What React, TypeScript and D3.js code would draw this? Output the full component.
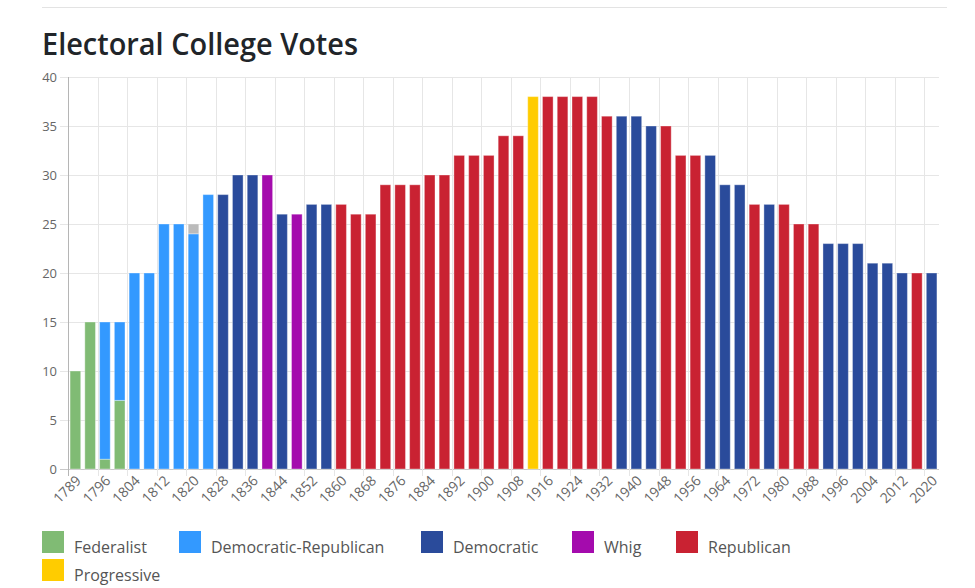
import { useMemo } from 'react';
import * as d3 from 'd3';

const years = [
  1789, 1792, 1796, 1800, 1804, 1808, 1812, 1816, 1820, 1824,
  1828, 1832, 1836, 1840, 1844, 1848, 1852, 1856, 1860, 1864,
  1868, 1872, 1876, 1880, 1884, 1888, 1892, 1896, 1900, 1904,
  1908, 1912, 1916, 1920, 1924, 1928, 1932, 1936, 1940, 1944,
  1948, 1952, 1956, 1960, 1964, 1968, 1972, 1976, 1980, 1984,
  1988, 1992, 1996, 2000, 2004, 2008, 2012, 2016, 2020,
];

// electoral votes per party, one entry per election year
const federalist = [
  10, 15, 1, 7, 0, 0, 0, 0, 0, 0,
  0, 0, 0, 0, 0, 0, 0, 0, 0, 0,
  0, 0, 0, 0, 0, 0, 0, 0, 0, 0,
  0, 0, 0, 0, 0, 0, 0, 0, 0, 0,
  0, 0, 0, 0, 0, 0, 0, 0, 0, 0,
  0, 0, 0, 0, 0, 0, 0, 0, 0,
];
const democraticRepublican = [
  0, 0, 14, 8, 20, 20, 25, 25, 24, 28,
  0, 0, 0, 0, 0, 0, 0, 0, 0, 0,
  0, 0, 0, 0, 0, 0, 0, 0, 0, 0,
  0, 0, 0, 0, 0, 0, 0, 0, 0, 0,
  0, 0, 0, 0, 0, 0, 0, 0, 0, 0,
  0, 0, 0, 0, 0, 0, 0, 0, 0,
];
const democratic = [
  0, 0, 0, 0, 0, 0, 0, 0, 0, 0,
  28, 30, 30, 0, 26, 0, 27, 27, 0, 0,
  0, 0, 0, 0, 0, 0, 0, 0, 0, 0,
  0, 0, 0, 0, 0, 0, 0, 36, 36, 35,
  0, 0, 0, 32, 29, 29, 0, 27, 0, 0,
  0, 23, 23, 23, 21, 21, 20, 0, 20,
];
const whig = [
  0, 0, 0, 0, 0, 0, 0, 0, 0, 0,
  0, 0, 0, 30, 0, 26, 0, 0, 0, 0,
  0, 0, 0, 0, 0, 0, 0, 0, 0, 0,
  0, 0, 0, 0, 0, 0, 0, 0, 0, 0,
  0, 0, 0, 0, 0, 0, 0, 0, 0, 0,
  0, 0, 0, 0, 0, 0, 0, 0, 0,
];
const republican = [
  0, 0, 0, 0, 0, 0, 0, 0, 0, 0,
  0, 0, 0, 0, 0, 0, 0, 0, 27, 26,
  26, 29, 29, 29, 30, 30, 32, 32, 32, 34,
  34, 0, 38, 38, 38, 38, 36, 0, 0, 0,
  35, 32, 32, 0, 0, 0, 27, 0, 27, 25,
  25, 0, 0, 0, 0, 0, 0, 20, 0,
];
const progressive = [
  0, 0, 0, 0, 0, 0, 0, 0, 0, 0,
  0, 0, 0, 0, 0, 0, 0, 0, 0, 0,
  0, 0, 0, 0, 0, 0, 0, 0, 0, 0,
  0, 38, 0, 0, 0, 0, 0, 0, 0, 0,
  0, 0, 0, 0, 0, 0, 0, 0, 0, 0,
  0, 0, 0, 0, 0, 0, 0, 0, 0,
];
const other = [
  0, 0, 0, 0, 0, 0, 0, 0, 1, 0,
  0, 0, 0, 0, 0, 0, 0, 0, 0, 0,
  0, 0, 0, 0, 0, 0, 0, 0, 0, 0,
  0, 0, 0, 0, 0, 0, 0, 0, 0, 0,
  0, 0, 0, 0, 0, 0, 0, 0, 0, 0,
  0, 0, 0, 0, 0, 0, 0, 0, 0,
];

const series = [
  { key: 'Federalist', values: federalist, color: '#80bb74', legend: true },
  { key: 'Democratic-Republican', values: democraticRepublican, color: '#3399ff', legend: true },
  { key: 'Democratic', values: democratic, color: '#2a4b9b', legend: true },
  { key: 'Whig', values: whig, color: '#a40bad', legend: true },
  { key: 'Republican', values: republican, color: '#c92232', legend: true },
  { key: 'Progressive', values: progressive, color: '#ffcc00', legend: true },
  { key: 'Other', values: other, color: '#bbbbbb', legend: false },
];

const yTicks = [0, 5, 10, 15, 20, 25, 30, 35, 40];

const W = 975;
const H = 588;
const plot = { left: 68, right: 939, top: 77, bottom: 469 };
const font = '"Open Sans", "Noto Sans", sans-serif';

// legend layout (box x, row)
const legendPos = [
  { x: 42, row: 0 }, { x: 179, row: 0 }, { x: 421, row: 0 },
  { x: 572, row: 0 }, { x: 676, row: 0 }, { x: 42, row: 1 },
];

const App = () => {
  const x = useMemo(() => d3.scaleBand<number>()
    .domain(years)
    .range([plot.left, plot.right])
    .paddingInner(0.28)
    .paddingOuter(0.14), []);
  const xCat = useMemo(() => d3.scaleBand<number>()
    .domain(years)
    .range([plot.left, plot.right])
    .padding(0), []);
  const y = useMemo(() => d3.scaleLinear().domain([0, 40]).range([plot.bottom, plot.top]), []);

  const stacked = useMemo(() => {
    const rows = years.map((yr, i) => {
      const r: Record<string, number> = { year: yr };
      series.forEach(s => { r[s.key] = s.values[i]; });
      return r;
    });
    return d3.stack<Record<string, number>>().keys(series.map(s => s.key))(rows);
  }, []);

  const labelled = years.filter((_, i) => i % 2 === 0);

  return (
    <div style={{ position: 'fixed', left: 0, top: 0 }}>
      <svg width={W} height={H} style={{ display: 'block', background: '#fff' }} fontFamily={font}>
        <line x1={42} x2={947} y1={7.5} y2={7.5} stroke="#e3e3e3" />
        <text x={42} y={55} fontSize={31} fontWeight={600} fill="#212529"
          textLength={316} lengthAdjust="spacingAndGlyphs">Electoral College Votes</text>

        {/* horizontal grid + y ticks */}
        {yTicks.map(t => (
          <g key={t}>
            <line x1={60} x2={plot.right} y1={Math.round(y(t)) + 0.5} y2={Math.round(y(t)) + 0.5}
              stroke={t === 0 ? '#c8c8c8' : '#e6e6e6'} />
            <text x={57} y={y(t)} dy="0.35em" textAnchor="end" fontSize={13} fill="#666">{t}</text>
          </g>
        ))}

        {/* vertical grid at labelled categories */}
        {labelled.map(yr => {
          const gx = Math.round(xCat(yr)!) + 0.5;
          return (
            <line key={yr} x1={gx} x2={gx} y1={plot.top} y2={plot.bottom + 7}
              stroke={yr === years[0] ? '#b5b5b5' : '#e6e6e6'} />
          );
        })}

        {/* bars */}
        {stacked.map((layer, li) => (
          <g key={layer.key} fill={series[li].color}>
            {layer.map((d, i) => d[1] - d[0] > 0 ? (
              <rect key={years[i]} x={x(years[i])} width={x.bandwidth()}
                y={y(d[1])} height={y(d[0]) - y(d[1])}
                stroke="rgba(255,255,255,0.35)" strokeWidth={1} />
            ) : null)}
          </g>
        ))}

        {/* x labels */}
        {labelled.map(yr => {
          const cx = xCat(yr)! + xCat.bandwidth() / 2;
          return (
            <text key={yr} transform={`translate(${cx + 3},${plot.bottom + 9}) rotate(-45)`}
              textAnchor="end" dy="0.35em" fontSize={14} fill="#666">{yr}</text>
          );
        })}

        {/* legend */}
        {series.filter(s => s.legend).map((s, i) => {
          const p = legendPos[i];
          const by = 531 + p.row * 28;
          return (
            <g key={s.key}>
              <rect x={p.x} y={by} width={22} height={22} fill={s.color} />
              <text x={p.x + 32} y={by + 22} fontSize={16} fill="#555">{s.key}</text>
            </g>
          );
        })}
      </svg>
    </div>
  );
};

export default App;
